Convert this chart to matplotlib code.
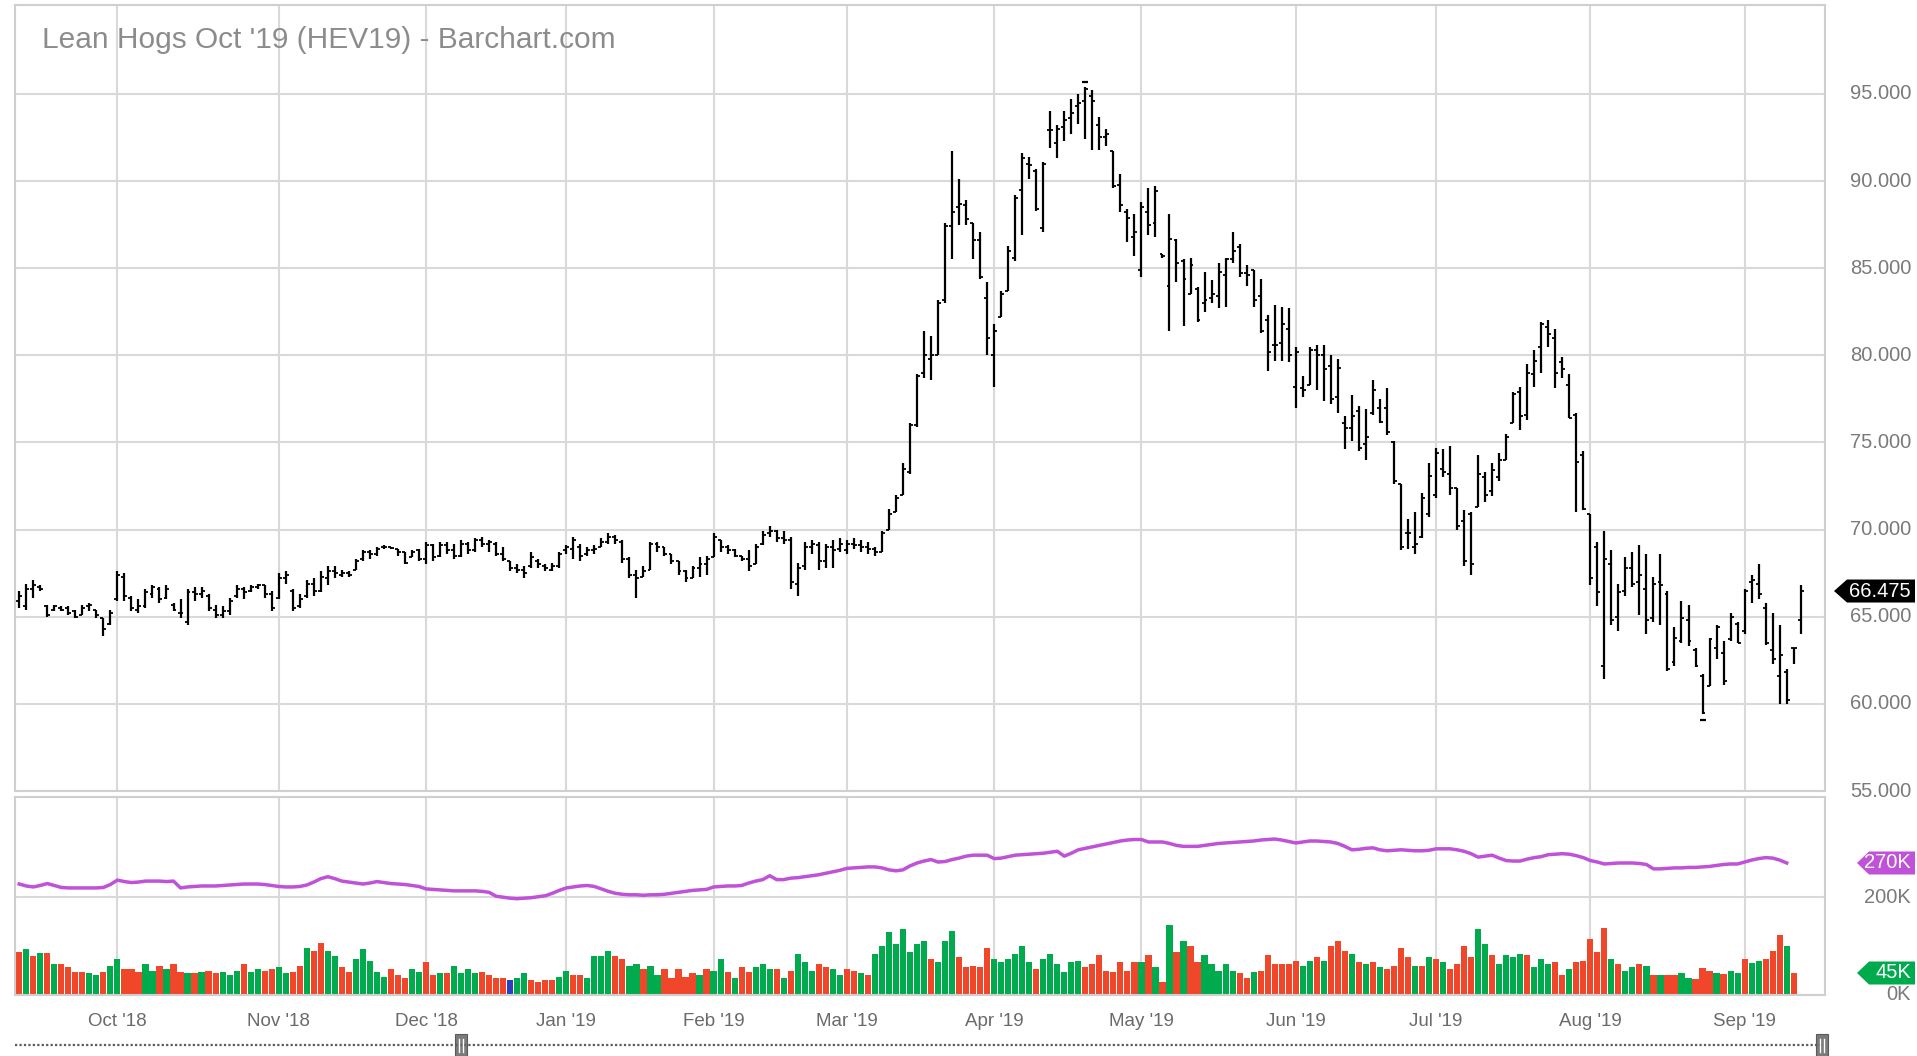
import numpy as np
import matplotlib
matplotlib.use("Agg")
import matplotlib.pyplot as plt
from matplotlib.patches import Polygon, Rectangle
from matplotlib.lines import Line2D
import matplotlib.transforms as mtransforms

plt.rcParams['font.family'] = ['Liberation Sans', 'DejaVu Sans']

# ---------------- data ----------------
TITLE = "Lean Hogs Oct '19 (HEV19) - Barchart.com"
month_labels = ["Oct '18", "Nov '18", "Dec '18", "Jan '19", "Feb '19", "Mar '19",
                "Apr '19", "May '19", "Jun '19", "Jul '19", "Aug '19", "Sep '19"]

# (open, high, low, close) per trading day, grouped by month
sep18 = [(65.9, 66.5, 65.5, 66.2), (65.6, 66.9, 65.4, 66.6), (66.6, 67.1, 66.1, 66.8),
         (66.7, 66.8, 66.5, 66.6), (65.6, 65.7, 65.0, 65.1), (65.4, 65.7, 65.3, 65.6),
         (65.5, 65.6, 65.3, 65.4), (65.5, 65.6, 65.1, 65.2), (65.3, 65.4, 64.9, 65.0),
         (65.1, 65.7, 65.1, 65.5), (65.6, 65.8, 65.3, 65.7), (65.4, 65.4, 64.9, 65.1),
         (64.9, 64.9, 63.9, 64.3), (64.6, 65.4, 64.5, 65.2)]
oct18 = [(66.0, 67.6, 65.9, 67.4), (67.3, 67.5, 65.9, 66.2), (66.1, 66.2, 65.3, 65.5),
         (65.4, 66.0, 65.2, 65.6), (65.6, 66.6, 65.5, 66.4), (66.3, 66.8, 66.1, 66.7),
         (66.6, 66.7, 65.8, 66.0), (66.1, 66.8, 66.0, 66.6), (65.7, 65.8, 65.3, 65.4),
         (65.2, 66.0, 64.9, 65.2), (64.7, 66.6, 64.5, 66.4), (66.4, 66.7, 65.9, 66.3),
         (66.3, 66.7, 66.1, 66.5), (66.2, 66.3, 65.3, 65.5), (65.4, 65.7, 64.9, 65.1),
         (65.1, 65.6, 64.9, 65.3), (65.3, 66.1, 65.1, 65.9), (66.2, 66.8, 66.1, 66.6),
         (66.6, 66.7, 66.0, 66.4), (66.5, 66.8, 66.4, 66.7), (66.7, 66.9, 66.6, 66.8),
         (66.8, 66.8, 66.1, 66.3), (66.3, 66.5, 65.3, 65.5)]
nov18 = [(66.1, 67.5, 66.0, 67.2), (67.2, 67.6, 66.9, 67.4), (66.5, 66.6, 65.3, 65.5),
         (65.6, 66.3, 65.5, 66.0), (66.2, 67.1, 66.1, 66.9), (66.9, 67.2, 66.2, 66.5),
         (66.5, 67.6, 66.4, 67.3), (67.2, 67.9, 66.8, 67.6), (67.6, 67.9, 67.2, 67.5),
         (67.4, 67.7, 67.3, 67.5), (67.5, 67.6, 67.3, 67.4), (67.7, 68.3, 67.7, 68.2),
         (68.3, 68.8, 68.2, 68.7), (68.7, 68.8, 68.3, 68.6), (68.6, 69.0, 68.5, 68.9),
         (69.0, 69.1, 68.9, 69.0), (69.0, 69.0, 68.9, 68.95), (68.9, 68.9, 68.5, 68.7),
         (68.7, 68.7, 68.0, 68.1), (68.4, 68.8, 68.4, 68.7), (68.8, 68.9, 68.2, 68.3)]
dec18 = [(68.3, 69.3, 68.0, 69.1), (69.1, 69.2, 68.2, 68.4), (68.5, 69.3, 68.4, 69.1),
         (69.1, 69.3, 68.6, 68.8), (68.8, 69.2, 68.3, 68.5), (68.5, 69.4, 68.4, 69.2),
         (69.2, 69.3, 68.6, 68.8), (68.8, 69.5, 68.7, 69.4), (69.4, 69.6, 69.0, 69.2),
         (69.2, 69.4, 68.7, 69.3), (69.2, 69.3, 68.5, 68.6), (68.6, 69.0, 68.2, 68.3),
         (68.2, 68.2, 67.6, 67.8), (67.8, 68.0, 67.5, 67.7), (67.7, 67.9, 67.2, 67.5),
         (67.9, 68.7, 67.8, 68.4), (68.2, 68.3, 67.8, 68.0), (67.9, 68.0, 67.6, 67.8),
         (67.7, 68.1, 67.6, 67.9), (67.9, 68.7, 67.8, 68.6)]
jan19 = [(68.8, 69.1, 68.6, 69.0), (68.9, 69.6, 68.3, 69.4), (69.0, 69.2, 68.2, 68.5),
         (68.6, 69.0, 68.5, 68.8), (68.8, 69.1, 68.6, 68.9), (69.0, 69.5, 69.0, 69.3),
         (69.3, 69.8, 69.2, 69.6), (69.6, 69.7, 69.2, 69.4), (69.3, 69.4, 68.1, 68.3),
         (68.3, 68.4, 67.2, 67.4), (67.4, 67.7, 66.1, 67.2), (67.3, 67.9, 67.3, 67.6),
         (67.7, 69.3, 67.7, 69.2), (69.2, 69.3, 68.7, 69.0), (69.0, 69.0, 68.5, 68.6),
         (68.6, 68.6, 68.0, 68.2), (68.2, 68.2, 67.4, 67.6), (67.6, 67.7, 67.0, 67.2),
         (67.2, 67.9, 67.2, 67.8), (67.8, 68.4, 67.3, 68.0), (68.0, 68.5, 67.4, 68.3)]
feb19 = [(68.4, 69.8, 68.4, 69.6), (69.4, 69.4, 68.7, 69.0), (69.0, 69.1, 68.6, 68.8),
         (68.8, 68.9, 68.4, 68.5), (68.5, 68.5, 68.2, 68.3), (68.3, 68.8, 67.6, 67.9),
         (68.0, 69.2, 68.0, 69.0), (69.2, 69.9, 69.1, 69.7), (69.8, 70.2, 69.6, 69.9),
         (69.9, 70.0, 69.3, 69.5), (69.5, 69.9, 69.2, 69.4), (69.4, 69.6, 66.6, 67.0),
         (66.9, 68.1, 66.2, 67.8), (67.9, 69.3, 67.7, 69.0), (69.0, 69.4, 68.6, 69.2),
         (69.1, 69.3, 67.7, 68.2), (68.2, 69.2, 67.8, 69.0), (69.0, 69.4, 67.8, 68.8),
         (68.9, 69.5, 68.7, 69.2)]
mar19 = [(68.8, 69.4, 68.6, 69.2), (69.2, 69.5, 68.9, 69.1), (69.1, 69.4, 68.7, 69.0),
         (69.0, 69.3, 68.6, 68.9), (68.9, 69.0, 68.5, 68.7), (68.7, 69.9, 68.7, 69.8),
         (70.0, 71.2, 70.0, 70.9), (71.0, 72.0, 71.0, 71.8), (72.0, 73.8, 72.0, 73.5),
         (73.3, 76.1, 73.2, 76.0), (76.0, 78.9, 75.9, 78.8), (79.0, 81.4, 78.7, 80.0),
         (79.8, 81.1, 78.6, 80.0), (80.0, 83.2, 80.0, 83.0), (83.2, 87.6, 83.0, 87.4),
         (87.4, 91.7, 85.5, 88.2), (88.5, 90.1, 87.5, 88.7), (88.6, 88.9, 87.5, 87.8),
         (87.6, 87.6, 85.5, 86.6), (86.6, 87.1, 84.4, 84.5), (83.3, 84.2, 80.0, 81.0)]
apr19 = [(80.0, 81.8, 78.2, 81.4), (82.2, 83.7, 82.2, 83.5), (83.7, 86.3, 83.7, 86.0),
         (85.6, 89.2, 85.4, 89.0), (89.5, 91.6, 86.9, 91.3), (91.0, 91.4, 90.1, 90.9),
         (90.6, 90.7, 88.3, 88.4), (87.3, 91.1, 87.1, 91.0), (92.9, 94.0, 91.9, 92.9),
         (92.2, 93.2, 91.3, 93.0), (93.1, 94.0, 92.3, 93.5), (93.6, 94.7, 92.7, 93.9),
         (94.3, 95.0, 93.3, 94.5), (94.6, 95.4, 92.4, 95.3), (94.9, 95.2, 91.8, 94.6),
         (93.2, 93.7, 91.8, 92.5), (92.5, 93.0, 92.0, 92.7), (91.7, 91.7, 89.6, 89.7),
         (89.8, 90.4, 88.2, 88.6), (88.2, 88.4, 86.5, 87.9), (86.8, 88.1, 85.7, 87.1)]
may19 = [(84.9, 88.8, 84.5, 88.5), (88.2, 89.6, 86.9, 87.5), (87.6, 89.7, 86.8, 89.4),
         (85.8, 85.8, 85.6, 85.7), (84.0, 88.1, 81.4, 86.7), (86.6, 86.7, 84.2, 85.3),
         (85.4, 85.5, 81.7, 84.4), (83.5, 85.6, 83.5, 85.2), (83.8, 83.9, 81.9, 82.0),
         (83.0, 84.8, 82.5, 83.2), (83.3, 84.3, 83.0, 83.5), (83.4, 85.3, 82.7, 84.8),
         (84.6, 85.6, 82.8, 85.5), (85.5, 87.1, 85.3, 86.0), (86.2, 86.4, 84.5, 84.7),
         (84.7, 85.2, 84.0, 84.6), (84.9, 84.9, 82.8, 83.2), (83.4, 84.4, 81.3, 81.4),
         (82.0, 82.3, 79.1, 80.2), (80.6, 82.9, 79.7, 80.6), (80.7, 82.8, 79.7, 81.8),
         (81.5, 82.7, 79.6, 80.0)]
jun19 = [(78.2, 80.5, 77.0, 80.2), (78.1, 78.8, 77.6, 78.0), (78.3, 80.5, 78.3, 80.3),
         (80.3, 80.6, 78.0, 80.0), (80.0, 80.6, 77.4, 79.2), (79.4, 80.0, 77.2, 77.5),
         (77.6, 79.8, 76.7, 79.3), (76.1, 76.5, 74.6, 75.8), (75.8, 77.7, 75.1, 76.5),
         (76.8, 77.1, 74.5, 74.7), (74.9, 76.9, 74.0, 75.3), (76.7, 78.6, 76.6, 78.0),
         (77.0, 77.5, 76.1, 76.2), (77.0, 78.1, 75.4, 75.6), (75.0, 75.1, 72.6, 72.8),
         (72.6, 72.6, 68.8, 69.0), (69.8, 70.6, 68.9, 69.8), (69.0, 71.0, 68.6, 69.2),
         (69.6, 72.1, 69.5, 71.8), (70.9, 73.8, 70.7, 73.1)]
jul19 = [(72.0, 74.7, 71.8, 74.4), (73.5, 74.6, 73.0, 73.3), (73.2, 74.8, 72.0, 72.4),
         (72.4, 72.4, 70.0, 70.2), (70.5, 71.1, 67.9, 68.2), (70.9, 71.0, 67.4, 68.0),
         (71.3, 74.3, 71.3, 73.2), (73.0, 73.3, 71.6, 72.0), (72.2, 73.8, 71.9, 73.4),
         (73.0, 74.4, 72.8, 74.0), (74.0, 75.5, 74.0, 75.3), (76.1, 77.9, 76.1, 77.8),
         (77.9, 78.2, 75.7, 76.5), (76.6, 79.5, 76.3, 79.0), (78.9, 80.3, 78.2, 79.7),
         (80.5, 81.9, 79.0, 81.8), (81.6, 82.0, 80.5, 81.2), (81.0, 81.5, 78.1, 79.0),
         (79.6, 79.9, 78.7, 79.2), (78.3, 78.9, 76.4, 76.4), (76.6, 76.7, 71.0, 73.9),
         (74.3, 74.5, 71.1, 71.2)]
aug19 = [(70.9, 70.9, 66.8, 67.2), (69.0, 69.3, 65.6, 66.4), (62.2, 69.9, 61.4, 68.3),
         (68.0, 68.8, 64.5, 64.8), (65.0, 66.9, 64.2, 66.4), (66.5, 68.4, 66.2, 67.8),
         (67.8, 68.7, 66.7, 66.9), (67.0, 69.1, 65.1, 67.4), (66.6, 68.6, 64.0, 64.8),
         (64.9, 67.3, 64.7, 66.9), (67.0, 68.6, 64.5, 66.8), (66.3, 66.5, 61.9, 62.0),
         (62.4, 64.4, 62.2, 63.8), (63.6, 65.9, 63.5, 64.9), (64.8, 65.7, 63.3, 63.6),
         (63.1, 63.2, 62.1, 62.2), (61.6, 61.7, 59.4, 59.5), (61.0, 63.8, 61.0, 63.7),
         (63.2, 64.5, 62.6, 64.4), (62.9, 63.6, 61.1, 61.3), (63.7, 65.2, 63.6, 65.0),
         (64.6, 64.7, 63.5, 63.5)]
sep19 = [(64.2, 66.6, 64.0, 66.5), (67.0, 67.4, 65.8, 67.1), (66.9, 68.0, 66.0, 66.3),
         (65.5, 65.8, 63.4, 63.5), (63.1, 65.2, 62.3, 62.6), (61.6, 64.5, 60.0, 62.8),
         (61.8, 62.0, 60.0, 60.2), (63.2, 63.2, 62.3, 63.2), (64.8, 66.8, 64.0, 66.475)]

# volume (thousands of contracts) and bar direction: u = up, d = down, n = unchanged
vol_sep18 = [87, 94, 80, 85, 85, 64, 64, 57, 47, 47, 44, 40, 47, 60]
dir_sep18 = "dudududddduudu"
vol_oct18 = [74, 54, 54, 47, 64, 50, 60, 54, 64, 47, 44, 44, 47, 50, 44, 47, 40, 50, 64, 47, 54, 50, 54]
dir_oct18 = "uddduudud dudu dd uuu duu dd".replace(" ", "")
vol_nov18 = [57, 44, 47, 60, 97, 91, 107, 91, 80, 57, 47, 74, 94, 70, 47, 37, 54, 40, 34, 54, 47]
dir_nov18 = "uuddudduuddu uuuuddduu".replace(" ", "")
vol_dec18 = [67, 40, 44, 44, 60, 44, 54, 44, 47, 40, 34, 34, 30, 34, 44, 30, 27, 30, 30, 37]
dir_dec18 = "ddudu uuudddd nuudddd u".replace(" ", "")
vol_jan19 = [50, 40, 40, 34, 80, 80, 91, 80, 74, 60, 64, 54, 60, 40, 54, 34, 54, 37, 44, 40, 54]
dir_jan19 = "udduu uuddu udu uddddd ud".replace(" ", "")
vol_feb19 = [50, 74, 47, 34, 57, 47, 57, 64, 54, 54, 34, 50, 84, 67, 50, 64, 57, 54, 40]
dir_feb19 = "uudud duuud udu uuddu u".replace(" ", "")
vol_mar19 = [54, 50, 44, 40, 84, 101, 128, 104, 134, 87, 104, 111, 74, 67, 111, 131, 77, 57, 60, 57, 97]
dir_mar19 = "ddud uuuuuuuu duuu ddddd".replace(" ", "")
vol_apr19 = [74, 67, 74, 84, 101, 67, 54, 74, 84, 64, 47, 67, 70, 57, 64, 81, 50, 47, 67, 50, 67]
dir_apr19 = "uuuuuu duuuuuu dddddddd".replace(" ", "")
vol_may19 = [67, 81, 57, 27, 144, 87, 111, 101, 67, 81, 64, 50, 64, 50, 44, 34, 47, 50, 81, 64, 64, 64]
dir_may19 = "udud udud duuuuu ddu ddddd".replace(" ", "")
vol_jun19 = [70, 60, 70, 77, 70, 101, 111, 91, 84, 67, 64, 67, 57, 54, 60, 97, 77, 60, 60, 77]
dir_jun19 = "duud uddd udud ud ddd udud".replace(" ", "")
vol_jul19 = [74, 67, 54, 64, 101, 77, 134, 104, 81, 64, 81, 77, 84, 81, 57, 74, 64, 67, 40, 54, 67, 70]
dir_jul19 = "udddd uud uuuu duuu dd uddd".replace(" ", "")
vol_aug19 = [114, 87, 138, 74, 64, 50, 57, 64, 60, 40, 40, 40, 40, 44, 35, 32, 56, 49, 46, 42, 49, 46]
dir_aug19 = "ddud uud udud duu ddd udu ud".replace(" ", "")
vol_sep19 = [73, 66, 70, 73, 90, 123, 100, 45]
dir_sep19 = "uudddudu"

# open interest (thousands)
oi_sep18 = [227, 223, 221, 224, 228, 224, 220, 219, 219, 219, 219, 219, 220, 226]
oi_oct18 = [235, 232, 230, 231, 233, 233, 233, 232, 233, 219, 221, 222, 223, 223, 223, 224,
            225, 226, 227, 227, 227, 226, 224]
oi_nov18 = [222, 221, 221, 222, 225, 231, 238, 242, 238, 233, 231, 229, 227, 229, 232, 230,
            228, 227, 226, 224, 222]
oi_dec18 = [217, 216, 215, 214, 213, 213, 213, 213, 212, 210, 202, 200, 198, 197, 198, 199,
            201, 203, 208, 214]
oi_jan19 = [219, 221, 223, 224, 222, 217, 212, 208, 206, 205, 205, 204, 205, 205, 206, 208,
            210, 212, 214, 215, 216]
oi_feb19 = [221, 222, 223, 223, 224, 229, 233, 236, 244, 236, 236, 239, 240, 242, 244, 246,
            249, 252, 255]
oi_mar19 = [259, 260, 261, 262, 262, 260, 256, 254, 256, 264, 270, 274, 277, 272, 273, 277,
            280, 284, 286, 286, 286]
oi_apr19 = [279, 280, 283, 286, 287, 288, 289, 290, 292, 294, 284, 290, 297, 300, 303, 306,
            309, 312, 315, 317, 318]
oi_may19 = [318, 313, 313, 313, 310, 306, 304, 304, 304, 306, 308, 310, 311, 312, 313, 314,
            315, 317, 318, 319, 317, 314]
oi_jun19 = [311, 313, 315, 315, 314, 313, 310, 304, 297, 298, 300, 301, 297, 295, 296, 297,
            296, 295, 295, 296]
oi_jul19 = [299, 299, 299, 297, 294, 289, 282, 284, 286, 280, 275, 274, 274, 278, 281, 283,
            287, 288, 289, 288, 285, 281]
oi_aug19 = [275, 272, 268, 269, 270, 270, 270, 269, 267, 258, 258, 259, 260, 260, 261, 261,
            262, 263, 265, 267, 268, 268]
oi_sep19 = [272, 276, 279, 281, 280, 276, 270]

price_ticks = [55, 60, 65, 70, 75, 80, 85, 90, 95]
vol_ticks = [0, 200]

# ---------------- assemble ----------------
ohlc_months = [sep18, oct18, nov18, dec18, jan19, feb19, mar19, apr19, may19, jun19, jul19, aug19, sep19]
ohlc = np.array([b for m in ohlc_months for b in m])
O, Hh, L, C = ohlc[:, 0], ohlc[:, 1], ohlc[:, 2], ohlc[:, 3]
x = np.arange(len(ohlc))
month_starts = np.cumsum([len(m) for m in ohlc_months])[:-1]

vol = np.array(vol_sep18 + vol_oct18 + vol_nov18 + vol_dec18 + vol_jan19 + vol_feb19 + vol_mar19 +
               vol_apr19 + vol_may19 + vol_jun19 + vol_jul19 + vol_aug19 + vol_sep19, float)
vdir = (dir_sep18 + dir_oct18 + dir_nov18 + dir_dec18 + dir_jan19 + dir_feb19 + dir_mar19 +
        dir_apr19 + dir_may19 + dir_jun19 + dir_jul19 + dir_aug19 + dir_sep19)
oi = np.array(oi_sep18 + oi_oct18 + oi_nov18 + oi_dec18 + oi_jan19 + oi_feb19 + oi_mar19 +
              oi_apr19 + oi_may19 + oi_jun19 + oi_jul19 + oi_aug19 + oi_sep19, float)

# ---------------- figure ----------------
W, H = 1917, 1056
fig = plt.figure(figsize=(W / 100, H / 100), dpi=100)
fig.patch.set_facecolor('white')

GRID = '#d9d9d9'
FRAME = '#cfcfcf'
LABEL = '#7a7a7a'
GREEN = '#00ab4e'
RED = '#f0462a'
BLUE = '#2b3fbf'
PURPLE = '#bf52d8'

L_PX, R_PX = 15, 1825
ax = fig.add_axes([L_PX / W, 1 - 791 / H, (R_PX - L_PX) / W, (791 - 5) / H])
axv = fig.add_axes([L_PX / W, 1 - 995 / H, (R_PX - L_PX) / W, (995 - 797) / H])

xmin, xmax = -0.6, 257.46
for a in (ax, axv):
    a.set_xlim(xmin, xmax)
    a.set_axisbelow(True)
    for s in a.spines.values():
        s.set_color(FRAME)
        s.set_linewidth(1.5)
    a.set_xticks(month_starts)
    a.grid(True, axis='both', color=GRID, linewidth=1.5)
    a.tick_params(length=0)
    a.set_yticklabels([])

ax.set_ylim(55, 100.1)
ax.set_yticks(price_ticks)
ax.set_xticklabels([])

axv.set_ylim(0, 405)
axv.set_yticks(vol_ticks)
axv.set_xticklabels(month_labels)
axv.tick_params(axis='x', pad=13, labelsize=13.5, labelcolor='#6a6a6a')

# OHLC bars
ax.vlines(x, L, Hh, color='black', linewidth=1.6)
tick = 0.42
ax.hlines(O, x - tick, x, color='black', linewidth=1.3)
ax.hlines(C, x, x + tick, color='black', linewidth=1.3)
# extreme markers
imax, imin = int(np.argmax(Hh)), int(np.argmin(L))
ax.plot([imax], [Hh[imax] + 0.3], marker='_', ms=5, mew=1.6, color='black')
ax.plot([imin], [L[imin] - 0.35], marker='_', ms=5, mew=1.6, color='black')

# volume & open interest
cmap = {'u': GREEN, 'd': RED, 'n': BLUE}
xv = np.arange(len(vol))
axv.bar(xv, vol, width=0.88, color=[cmap[c] for c in vdir], linewidth=0, zorder=2)
xo = np.arange(len(oi))
axv.plot(xo, oi, color=PURPLE, linewidth=2.5, zorder=3, solid_joinstyle='round')

# title
fig.text(41.5 / W, 1 - 48.5 / H, TITLE, fontsize=21.5, color='#8c8c8c', va='baseline', ha='left')

# right-side axis labels
tr_p = mtransforms.blended_transform_factory(fig.transFigure, ax.transData)
for p in price_ticks:
    ax.text(1911 / W, p, f"{p:.3f}", transform=tr_p, ha='right', va='center',
            fontsize=14.5, color=LABEL, clip_on=False)
tr_v = mtransforms.blended_transform_factory(fig.transFigure, axv.transData)
for v in vol_ticks:
    axv.text(1911 / W, v, f"{v}K", transform=tr_v, ha='right', va='center', fontsize=14.5,
             color=LABEL, clip_on=False)


def tag(a, value, text, face, x_tip, x_body, x_right=1915, h=23):
    y = a.transData.transform((0, value))[1]
    pts = [(x_tip, y), (x_body, y + h / 2), (x_right, y + h / 2), (x_right, y - h / 2), (x_body, y - h / 2)]
    poly = Polygon([(px / W, py / H) for px, py in pts], closed=True, transform=fig.transFigure,
                   facecolor=face, edgecolor='none', zorder=10)
    fig.add_artist(poly)
    fig.text(1911 / W, y / H, text, ha='right', va='center', fontsize=14.5, color='white', zorder=11)


tag(ax, C[-1], f"{C[-1]:.3f}", 'black', 1834, 1847)
tag(axv, oi[-1], f"{int(round(oi[-1]))}K", PURPLE, 1857, 1869)
tag(axv, vol[-1], f"{int(round(vol[-1]))}K", GREEN, 1857, 1869)

# scrollbar at bottom
ys = 1 - 1045 / H
fig.add_artist(Line2D([L_PX / W, 1822 / W], [ys, ys], transform=fig.transFigure, color='#5a5a5a',
                      linewidth=1.6, linestyle=(0, (1, 1))))
for hx in (461, 1822):
    fig.add_artist(Rectangle(((hx - 6) / W, 0.0), 12 / W, 22 / H,
                             transform=fig.transFigure, facecolor='#7b7b7b', edgecolor='#5a5a5a',
                             linewidth=0.8))
    for dx in (-1.8, 1.8):
        fig.add_artist(Line2D([(hx + dx) / W, (hx + dx) / W], [4 / H, 17 / H], transform=fig.transFigure,
                              color='white', linewidth=1.0))

fig.savefig('out.png', dpi=100, facecolor='white')
